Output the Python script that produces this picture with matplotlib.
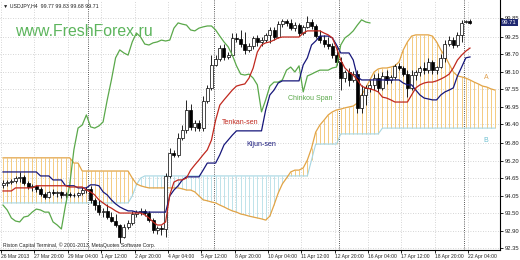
import numpy as np
import matplotlib
matplotlib.use('Agg')
import matplotlib.pyplot as plt
from matplotlib.transforms import blended_transform_factory

# USDJPY H4 candles (one per bar, left to right)
opens = [94.42, 94.48, 94.51, 94.55, 94.64, 94.68, 94.48, 94.35, 94.39, 94.29,
         94.12, 94.02, 94.19, 94.16, 94.18, 94.09, 94.12, 94.08, 94.10, 94.14,
         94.25, 94.29, 93.93, 93.76, 93.53, 93.57, 93.37, 93.24, 93.11, 92.72,
         93.05, 93.18, 93.47, 93.53, 93.57, 93.50, 93.27, 92.95, 93.01, 92.98,
         94.71, 95.46, 95.40, 95.95, 96.21, 96.86, 96.31, 96.44, 96.27, 97.15,
         97.58, 98.33, 98.52, 98.88, 98.59, 98.65, 99.21, 99.18, 99.01, 98.82,
         98.95, 99.21, 99.08, 99.14, 99.31, 99.47, 99.24, 99.66, 99.76, 99.70,
         99.53, 99.63, 99.37, 99.57, 99.73, 99.60, 99.27, 99.14, 99.01, 98.95,
         98.65, 98.43, 97.90, 98.10, 97.84, 98.03, 96.93, 97.35, 97.58, 97.68,
         97.90, 97.58, 97.97, 97.84, 97.94, 98.30, 98.23, 98.03, 97.58, 98.00,
         98.10, 98.23, 98.16, 98.43, 98.16, 98.26, 98.56, 99.01, 99.14, 98.98,
         99.31, 99.72, 99.77]
highs = [94.58, 94.58, 94.61, 94.71, 94.84, 94.74, 94.55, 94.45, 94.42, 94.35,
         94.19, 94.22, 94.29, 94.22, 94.22, 94.19, 94.19, 94.16, 94.19, 94.35,
         94.35, 94.39, 93.99, 93.93, 93.66, 93.80, 93.53, 93.47, 93.14, 93.14,
         93.27, 93.57, 93.60, 93.66, 93.63, 93.57, 93.34, 93.08, 93.11, 94.81,
         95.62, 95.56, 96.11, 96.37, 97.19, 97.06, 96.53, 96.53, 97.32, 97.68,
         98.65, 98.65, 98.98, 99.01, 98.75, 99.37, 99.37, 99.47, 99.40, 99.05,
         99.27, 99.31, 99.24, 99.37, 99.57, 99.57, 99.76, 99.83, 99.83, 99.83,
         99.73, 99.70, 99.63, 99.93, 99.83, 99.66, 99.47, 99.31, 99.24, 99.05,
         98.88, 98.59, 98.16, 98.23, 98.13, 98.16, 97.68, 97.68, 97.84, 98.03,
         98.07, 98.10, 98.16, 98.00, 98.36, 98.39, 98.30, 98.16, 98.16, 98.16,
         98.30, 98.43, 98.56, 98.49, 98.30, 98.69, 99.14, 99.27, 99.24, 99.40,
         99.80, 99.79, 99.83]
lows = [94.32, 94.39, 94.45, 94.48, 94.51, 94.42, 94.29, 94.22, 94.19, 94.06,
        93.96, 93.99, 94.09, 94.02, 93.99, 93.99, 94.02, 94.02, 94.02, 94.09,
        94.16, 93.83, 93.60, 93.44, 93.37, 93.31, 93.21, 93.05, 92.53, 92.69,
        92.98, 93.11, 93.37, 93.44, 93.40, 93.21, 92.85, 92.82, 92.79, 92.72,
        94.64, 95.33, 95.33, 95.88, 96.11, 96.21, 96.18, 96.18, 96.18, 97.09,
        97.51, 98.30, 98.46, 98.49, 98.52, 98.62, 99.08, 98.92, 98.69, 98.75,
        98.85, 98.95, 98.95, 99.08, 99.05, 99.14, 99.21, 99.57, 99.60, 99.47,
        99.44, 99.27, 99.31, 99.53, 99.50, 99.21, 99.05, 98.92, 98.85, 98.56,
        98.33, 97.51, 97.77, 97.64, 97.77, 96.76, 96.76, 97.02, 97.45, 97.51,
        97.45, 97.51, 97.71, 97.74, 97.87, 98.16, 97.97, 97.28, 97.51, 97.84,
        97.97, 98.03, 98.07, 98.03, 98.03, 98.23, 98.43, 98.95, 98.88, 98.92,
        99.08, 99.70, 99.68]
closes = [94.48, 94.51, 94.55, 94.64, 94.68, 94.48, 94.35, 94.39, 94.29, 94.12,
          94.02, 94.19, 94.16, 94.18, 94.09, 94.12, 94.08, 94.10, 94.14, 94.25,
          94.29, 93.93, 93.76, 93.53, 93.57, 93.37, 93.24, 93.11, 92.72, 93.05,
          93.18, 93.47, 93.53, 93.57, 93.50, 93.27, 92.95, 93.01, 92.98, 94.71,
          95.46, 95.40, 95.95, 96.21, 96.86, 96.31, 96.44, 96.27, 97.15, 97.58,
          98.33, 98.52, 98.88, 98.59, 98.65, 99.21, 99.18, 99.01, 98.82, 98.95,
          99.21, 99.08, 99.14, 99.31, 99.47, 99.24, 99.66, 99.76, 99.70, 99.53,
          99.63, 99.37, 99.57, 99.73, 99.60, 99.27, 99.14, 99.01, 98.95, 98.65,
          98.43, 97.90, 98.10, 97.84, 98.03, 96.93, 97.35, 97.58, 97.68, 97.90,
          97.58, 97.97, 97.84, 97.94, 98.30, 98.23, 98.03, 97.58, 98.00, 98.10,
          98.23, 98.16, 98.43, 98.16, 98.26, 98.56, 99.01, 99.14, 98.98, 99.31,
          99.70, 99.77, 99.71]

tenkan = [94.22, 94.22, 94.22, 94.32, 94.32, 94.32, 94.32, 94.32, 94.39, 94.39,
          94.39, 94.39, 94.39, 94.39, 94.39, 94.39, 94.35, 94.35, 94.35, 94.35,
          94.25, 94.19, 94.09, 93.93, 93.83, 93.73, 93.66, 93.57, 93.50, 93.50,
          93.50, 93.50, 93.50, 93.50, 93.44, 93.34, 93.21, 93.11, 93.11, 93.21,
          94.09, 94.51, 94.58, 94.58, 94.64, 94.90, 95.07, 95.23, 95.40, 95.56,
          95.88, 96.53, 97.02, 97.19, 97.35, 97.51, 97.64, 97.68, 97.71, 97.90,
          98.23, 98.75, 98.98, 99.05, 99.08, 99.14, 99.21, 99.24, 99.24, 99.24,
          99.24, 99.24, 99.37, 99.44, 99.44, 99.44, 99.44, 99.37, 99.31, 99.21,
          98.88, 98.49, 98.23, 98.10, 98.00, 97.84, 97.64, 97.58, 97.55, 97.51,
          97.45, 97.28, 97.25, 97.19, 97.12, 97.12, 97.12, 97.12, 97.35, 97.58,
          97.68, 97.74, 97.77, 97.77, 97.81, 97.87, 97.94, 98.03, 98.23, 98.49,
          98.65, 98.78, 98.88]
kijun = [94.84, 94.84, 94.84, 94.84, 94.84, 94.84, 94.84, 94.84, 94.84, 94.71,
         94.71, 94.71, 94.58, 94.58, 94.58, 94.39, 94.39, 94.39, 94.32, 94.32,
         94.32, 94.42, 94.42, 94.39, 94.19, 94.09, 93.93, 93.80, 93.70, 93.63,
         93.57, 93.57, 93.53, 93.53, 93.53, 93.53, 93.53, 93.53, 93.53, 93.53,
         94.06, 94.25, 94.39, 94.58, 94.68, 94.68, 94.68, 94.68, 94.90, 95.13,
         95.13, 95.13, 95.40, 95.72, 95.88, 96.04, 96.18, 96.18, 96.18, 96.18,
         96.18, 96.18, 96.18, 96.86, 97.35, 97.51, 97.74, 97.81, 97.81, 97.81,
         97.81, 97.81, 98.33, 98.56, 98.98, 99.11, 99.27, 99.27, 99.27, 99.21,
         98.98, 98.72, 98.72, 98.72, 98.49, 97.94, 97.84, 97.84, 97.84, 97.84,
         97.84, 97.84, 97.84, 97.84, 97.84, 97.84, 97.74, 97.68, 97.68, 97.51,
         97.35, 97.25, 97.22, 97.19, 97.19, 97.35, 97.45, 97.51, 97.58, 97.97,
         98.26, 98.56, 98.59]
chikou = [93.76, 93.60, 93.34, 93.24, 93.21, 93.37, 93.40, 93.53, 93.63, 93.60,
          93.53, 93.53, 93.21, 93.11, 92.98, 93.76, 94.42, 95.56, 96.27, 96.37,
          96.70, 96.31, 96.27, 96.34, 96.47, 97.19, 97.84, 98.56, 98.82, 98.72,
          98.65, 99.08, 99.37, 99.24, 99.01, 98.98, 99.05, 99.08, 99.14, 99.11,
          99.14, 99.53, 99.70, 99.66, 99.63, 99.47, 99.44, 99.53, 99.57, 99.60,
          99.60, 99.47, 99.27, 99.08, 98.92, 98.65, 98.30, 98.03, 98.00, 98.03,
          97.90, 97.68, 96.80, 97.19, 97.64, 97.77, 97.77, 97.84, 98.16, 98.26,
          98.10, 98.30, 97.45, 97.97, 98.03, 98.10, 98.16, 98.16, 98.16, 98.23,
          98.26, 98.98, 99.21, 99.31, 99.44, 99.63, 99.80, 99.73, 99.70]
span_a = [95.30, 95.30, 95.30, 95.30, 95.30, 95.30, 95.30, 95.30, 95.30, 95.30,
          95.30, 95.30, 95.30, 95.30, 95.30, 95.30, 95.30, 95.13, 95.13, 94.87,
          94.87, 94.87, 94.87, 94.87, 94.87, 94.87, 94.87, 94.87, 94.87, 94.87,
          94.87, 94.64, 94.45, 94.39, 94.35, 94.32, 94.32, 94.32, 94.32, 94.32,
          94.32, 94.32, 94.32, 94.29, 94.25, 94.25, 94.19, 94.06, 93.93, 93.90,
          93.86, 93.83, 93.76, 93.70, 93.63, 93.57, 93.53, 93.47, 93.44, 93.40,
          93.37, 93.34, 93.31, 93.27, 93.40, 93.76, 94.15, 94.45, 94.64, 94.84,
          94.90, 94.90, 94.97, 95.23, 95.62, 96.14, 96.37, 96.53, 96.70, 96.80,
          96.86, 96.89, 96.93, 96.96, 96.99, 97.09, 97.35, 97.58, 97.84, 98.10,
          98.20, 98.23, 98.23, 98.26, 98.30, 98.43, 98.82, 99.08, 99.27, 99.31,
          99.31, 99.31, 99.31, 99.27, 99.08, 98.82, 98.62, 98.36, 98.10, 97.97,
          97.94, 97.90, 97.84, 97.77, 97.71, 97.64, 97.61, 97.55, 97.51]
span_b = [93.83, 93.83, 93.83, 93.83, 93.83, 93.83, 93.83, 93.83, 93.83, 93.83,
          93.83, 93.83, 93.83, 93.83, 93.83, 93.83, 93.83, 93.83, 93.83, 93.83,
          93.83, 93.83, 93.83, 93.83, 93.83, 93.83, 93.83, 93.83, 93.83, 93.83,
          93.83, 94.06, 94.42, 94.64, 94.71, 94.71, 94.71, 94.71, 94.71, 94.71,
          94.71, 94.71, 94.71, 94.71, 94.71, 94.71, 94.71, 94.71, 94.71, 94.71,
          94.71, 94.71, 94.71, 94.71, 94.71, 94.71, 94.71, 94.71, 94.71, 94.71,
          94.71, 94.71, 94.71, 94.71, 94.71, 94.71, 94.71, 94.71, 94.71, 94.71,
          94.71, 94.71, 94.71, 94.71, 95.23, 95.75, 95.75, 95.75, 95.75, 95.75,
          95.75, 96.08, 96.08, 96.08, 96.08, 96.08, 96.08, 96.08, 96.08, 96.08,
          96.08, 96.27, 96.27, 96.27, 96.27, 96.27, 96.27, 96.27, 96.27, 96.27,
          96.27, 96.27, 96.27, 96.27, 96.27, 96.27, 96.27, 96.27, 96.27, 96.27,
          96.27, 96.27, 96.27, 96.27, 96.27, 96.27, 96.27, 96.27, 96.27]

price_ticks = [99.85, 99.25, 98.70, 98.10, 97.55, 96.95, 96.40, 95.80,
               95.20, 94.65, 94.05, 93.50, 92.90, 92.35]
time_labels = ['26 Mar 2013', '27 Mar 20:00', '29 Mar 04:00', '1 Apr 12:00',
               '2 Apr 20:00', '4 Apr 04:00', '5 Apr 12:00', '8 Apr 20:00',
               '10 Apr 04:00', '11 Apr 12:00', '12 Apr 20:00', '16 Apr 04:00',
               '17 Apr 12:00', '18 Apr 20:00', '22 Apr 04:00']
week_starts = [21, 51, 81, 111]   # bar index of Monday 00:00
last_price = 99.71

c_tenkan = '#c0281e'
c_kijun = '#16167a'
c_chikou = '#5aa84a'
c_a_line = '#e2a446'
c_a_fill = '#f4cb80'
c_b_line = '#a6d6e2'
c_b_fill = '#bfe3ea'

plt.rcParams['font.family'] = ['Liberation Sans', 'DejaVu Sans']

fig = plt.figure(figsize=(5.2, 2.6), dpi=100)
ax = fig.add_axes([0.0, 10 / 260, 500 / 520, 250 / 260])
ax.set_xlim(-0.72, 119.2)
ax.set_ylim(92.295, 100.447)

# cloud
xa = np.arange(len(span_a))
sa = np.array(span_a)
sb = np.array(span_b)
cols = [c_a_fill if a >= b else c_b_fill for a, b in zip(sa, sb)]
ax.vlines(xa, np.minimum(sa, sb), np.maximum(sa, sb), colors=cols, linewidth=0.7, zorder=1)
ax.plot(xa, sb, color=c_b_line, lw=0.8, zorder=2)
ax.plot(xa, sa, color=c_a_line, lw=0.9, zorder=2)

# week separators
for k in week_starts:
    ax.axvline(k - 0.5, color='#222222', linestyle=(0, (1, 1.6)), lw=0.6, zorder=1.5)

# candles
xb = np.arange(len(closes))
o = np.array(opens)
c = np.array(closes)
ax.vlines(xb, lows, highs, color='black', lw=0.6, zorder=3)
face = ['white' if cc >= oo else 'black' for oo, cc in zip(o, c)]
ax.bar(xb, c - o, bottom=o, width=0.72, color=face, edgecolor='black', linewidth=0.5, zorder=4)

# ichimoku lines
ax.plot(np.arange(len(chikou)), chikou, color=c_chikou, lw=0.9, zorder=5)
ax.plot(xb, kijun, color=c_kijun, lw=0.9, zorder=5)
ax.plot(xb, tenkan, color=c_tenkan, lw=0.9, zorder=5)

ax.text(52.5, 96.45, 'Tenkan-sen', color=c_tenkan, fontsize=5, va='center', zorder=6)
ax.text(58.3, 95.72, 'Kijun-sen', color=c_kijun, fontsize=5, va='center', zorder=6)
ax.text(68.3, 97.22, 'Chinkou Span', color=c_chikou, fontsize=5, va='center', zorder=6)
ax.text(115.3, 97.92, 'A', color='#e0a050', fontsize=5, va='center', zorder=6)
ax.text(115.1, 95.88, 'B', color='#6cbfd0', fontsize=5, va='center', zorder=6)

# axes / grid
grid_kw = dict(color='#c8c8c8', linestyle=(0, (1, 2)), linewidth=0.6)
ax.set_axisbelow(True)
ax.grid(True, **grid_kw)
for s in ['top', 'left']:
    ax.spines[s].set_visible(False)
for s in ['right', 'bottom']:
    ax.spines[s].set_linewidth(0.8)

ax.yaxis.tick_right()
ax.set_yticks(price_ticks, ['%.2f' % v for v in price_ticks])
ax.tick_params(axis='y', length=2, width=0.6, pad=1.5, labelsize=4.2, labelcolor='#222222')

xt = [8 * i - 0.45 for i in range(len(time_labels))]
ax.set_xticks(xt, time_labels)
for lbl in ax.get_xticklabels():
    lbl.set_horizontalalignment('left')
ax.tick_params(axis='x', length=2, width=0.6, pad=1.0, labelsize=3.6, labelcolor='#222222')

# current price box
tr = blended_transform_factory(ax.transAxes, ax.transData)
ax.text(1.004, last_price, '%.2f' % last_price, transform=tr, ha='left', va='center',
        fontsize=4.2, color='white', zorder=10, clip_on=False,
        bbox=dict(boxstyle='square,pad=0.2', fc='#1f2870', ec='none'))

# captions
ax.text(15 / 520, 1 - 36 / 260, 'www.FreshForex.ru', transform=fig.transFigure,
        color='#5db55d', fontsize=11.4, va='baseline', ha='left', zorder=0.5)
fig.text(3 / 520, 1 - 5.5 / 260, '\u25bc USDJPY,H4  99.77 99.83 99.68 99.71',
         fontsize=3.8, va='center', ha='left', color='#222222')
fig.text(3 / 520, 1 - 245 / 260, 'Riston Capital Terminal, \u00a9 2001-2013, MetaQuotes Software Corp.',
         fontsize=3.7, va='center', ha='left', color='#222222')

fig.savefig('out.png', dpi=100, facecolor='white')
